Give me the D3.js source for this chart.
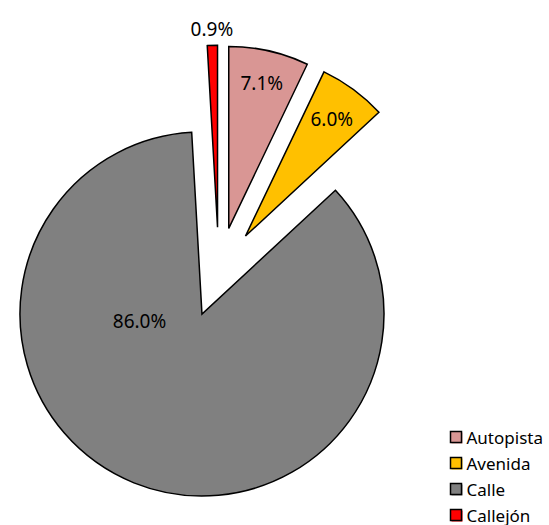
<!DOCTYPE html>
<html>
<head>
<meta charset="utf-8">
<script src="https://cdn.jsdelivr.net/npm/d3@7"></script>
<style>
  html, body { margin: 0; padding: 0; background: #fff; }
  svg { display: block; }
  text { font-family: "Noto Sans", "Open Sans", sans-serif; fill: #000; }
</style>
</head>
<body>
<svg id="chart" width="549" height="525"></svg>
<script>
// ---- data ----
const categories = ["Autopista", "Avenida", "Calle", "Callejón"];
const values = [7.1, 6.0, 86.0, 0.9];
const valueLabels = ["7.1%", "6.0%", "86.0%", "0.9%"];
const colors = ["#D99694", "#FFC000", "#808080", "#FF0000"];

// ---- layout ----
const W = 549, H = 525;
const cx = 218.8, cy = 272.3, R = 182, explode = 45;
// label placement (fraction of radius, optional angle override in degrees)
const labelPlace = [
  { f: 0.82 }, { f: 0.80 }, { f: 0.345, angle: 264 }, { f: 1.09 }
];

const svg = d3.select("#chart");
const color = d3.scaleOrdinal().domain(categories).range(colors);

const data = categories.map((c, i) => ({ cat: c, value: values[i], label: valueLabels[i], i }));
const pie = d3.pie().sort(null).value(d => d.value).startAngle(0).endAngle(2 * Math.PI);
const arcs = pie(data);
const arc = d3.arc().innerRadius(0).outerRadius(R);

const g = svg.append("g").attr("transform", `translate(${cx},${cy})`);

const slice = g.selectAll("g.slice").data(arcs).enter().append("g")
  .attr("class", "slice")
  .attr("transform", d => {
    const m = (d.startAngle + d.endAngle) / 2;
    return `translate(${Math.sin(m) * explode},${-Math.cos(m) * explode})`;
  });

slice.append("path")
  .attr("d", arc)
  .attr("fill", d => color(d.data.cat))
  .attr("stroke", "#000")
  .attr("stroke-width", 1.5)
  .attr("stroke-linejoin", "miter");

slice.append("text")
  .attr("x", d => {
    const p = labelPlace[d.index];
    const a = p.angle !== undefined ? p.angle * Math.PI / 180 : (d.startAngle + d.endAngle) / 2;
    return Math.sin(a) * R * p.f;
  })
  .attr("y", d => {
    const p = labelPlace[d.index];
    const a = p.angle !== undefined ? p.angle * Math.PI / 180 : (d.startAngle + d.endAngle) / 2;
    return -Math.cos(a) * R * p.f;
  })
  .attr("text-anchor", "middle")
  .attr("dominant-baseline", "central")
  .style("font-size", "19px")
  .text(d => d.data.label);

// ---- legend ----
const ly = d3.scalePoint().domain(categories).range([437, 515]);
const legend = svg.append("g");
const item = legend.selectAll("g").data(categories).enter().append("g")
  .attr("transform", d => `translate(450,${ly(d)})`);
item.append("rect")
  .attr("x", 1.5).attr("y", -4.5).attr("width", 11).attr("height", 11)
  .attr("fill", d => color(d));
item.append("rect")
  .attr("x", 0.5).attr("y", -5.5).attr("width", 11).attr("height", 11)
  .attr("fill", d => color(d))
  .attr("stroke", "#000").attr("stroke-width", 1.5);
item.append("text")
  .attr("x", 16.5).attr("y", 0)
  .attr("dominant-baseline", "central")
  .style("font-size", "17px")
  .text(d => d);
</script>
</body>
</html>
